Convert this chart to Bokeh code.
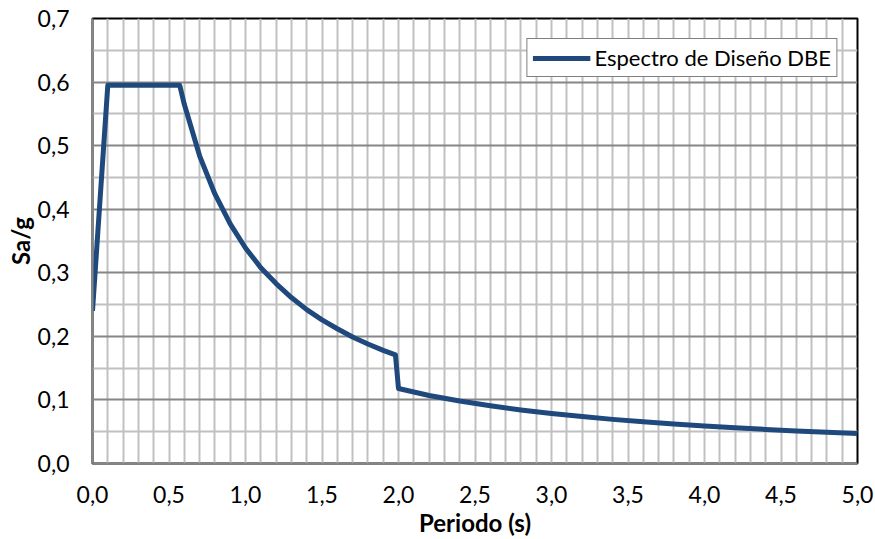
from bokeh.plotting import figure
from bokeh.models import FixedTicker, CustomJSTickFormatter, Range1d
from bokeh.embed import file_html
from bokeh.resources import INLINE

# Periodo (s)
periodo = [0.0, 0.1, 0.57, 0.6, 0.7, 0.8, 0.9, 1.0, 1.1, 1.2, 1.3, 1.4, 1.5,
           1.6, 1.7, 1.8, 1.9, 1.98, 2.0, 2.2, 2.4, 2.6, 2.8, 3.0, 3.2, 3.4,
           3.6, 3.8, 4.0, 4.2, 4.4, 4.6, 4.8, 5.0]
# Sa/g
sa_g = [0.24, 0.595, 0.595, 0.565, 0.484, 0.424, 0.377, 0.339, 0.308, 0.283,
        0.261, 0.242, 0.226, 0.212, 0.199, 0.188, 0.178, 0.171, 0.118, 0.107,
        0.0983, 0.0908, 0.0843, 0.0787, 0.0738, 0.0694, 0.0656, 0.0621, 0.059,
        0.0562, 0.0536, 0.0513, 0.0492, 0.0472]
serie = "Espectro de Diseño DBE"

x_ticks = [0.0, 0.5, 1.0, 1.5, 2.0, 2.5, 3.0, 3.5, 4.0, 4.5, 5.0]
x_minor = [0.1, 0.2, 0.3, 0.4, 0.6, 0.7, 0.8, 0.9, 1.1, 1.2, 1.3, 1.4, 1.6,
           1.7, 1.8, 1.9, 2.1, 2.2, 2.3, 2.4, 2.6, 2.7, 2.8, 2.9, 3.1, 3.2,
           3.3, 3.4, 3.6, 3.7, 3.8, 3.9, 4.1, 4.2, 4.3, 4.4, 4.6, 4.7, 4.8, 4.9]
y_ticks = [0.0, 0.1, 0.2, 0.3, 0.4, 0.5, 0.6, 0.7]
y_minor = [0.05, 0.15, 0.25, 0.35, 0.45, 0.55, 0.65]

FONT = "Lato"

p = figure(width=875, height=539, output_backend="svg", toolbar_location=None,
           x_range=Range1d(0, 5), y_range=Range1d(0, 0.7),
           min_border_left=92, min_border_right=18, min_border_top=18,
           min_border_bottom=76)

p.line(periodo, sa_g, line_color="#1F497D", line_width=5, line_join="round",
       legend_label=serie)

fmt = CustomJSTickFormatter(code="return tick.toFixed(1).replace('.', ',');")
p.xaxis.ticker = FixedTicker(ticks=x_ticks, minor_ticks=x_minor)
p.yaxis.ticker = FixedTicker(ticks=y_ticks, minor_ticks=y_minor)
p.xaxis.formatter = fmt
p.yaxis.formatter = fmt

for ax in (p.xaxis, p.yaxis):
    ax.axis_line_color = "#868686"
    ax.axis_line_width = 2
    ax.major_tick_out = 0
    ax.major_tick_in = 0
    ax.minor_tick_out = 0
    ax.minor_tick_in = 0
    ax.major_label_text_font = FONT
    ax.major_label_text_font_size = "23px"
    ax.major_label_text_color = "#000000"
    ax.axis_label_text_font = FONT
    ax.axis_label_text_font_size = "24px"
    ax.axis_label_text_font_style = "bold"
    ax.axis_label_text_color = "#000000"

p.xaxis.axis_label = "Periodo (s)"
p.yaxis.axis_label = "Sa/g"
p.xaxis.major_label_standoff = 22
p.yaxis.major_label_standoff = 23
p.xaxis.axis_label_standoff = 2
p.yaxis.axis_label_standoff = 0

p.xgrid.grid_line_color = "#c0c0c0"
p.xgrid.grid_line_width = 2
p.xgrid.minor_grid_line_color = "#c0c0c0"
p.xgrid.minor_grid_line_width = 2
p.ygrid.grid_line_color = "#868686"
p.ygrid.grid_line_width = 2
p.ygrid.minor_grid_line_color = "#c0c0c0"
p.ygrid.minor_grid_line_width = 2

p.outline_line_color = "#000000"
p.outline_line_width = 2
p.background_fill_color = "white"
p.border_fill_color = "white"

lg = p.legend[0]
lg.location = "top_right"
lg.margin = 20
lg.padding = 5
lg.border_line_color = "#000000"
lg.border_line_width = 1.5
lg.label_text_font = FONT
lg.label_text_font_size = "22px"
lg.label_text_color = "#000000"
lg.glyph_width = 58
lg.label_standoff = 4
lg.label_height = 24
lg.glyph_height = 24
lg.background_fill_alpha = 1

open("out.html", "w").write(file_html(p, INLINE))
